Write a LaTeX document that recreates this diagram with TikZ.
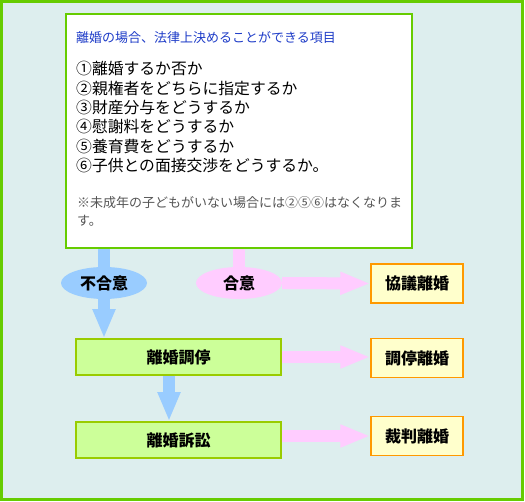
\documentclass[tikz,border=0pt]{standalone}
\usepackage{fontspec}
\newfontfamily\jp{Noto Sans CJK JP}
\usetikzlibrary{shapes.geometric,arrows.meta}
\definecolor{bgc}{HTML}{DDEEEE}
\definecolor{frame}{HTML}{66CC00}
\definecolor{titleblue}{RGB}{30,60,200}
\definecolor{notegray}{RGB}{85,85,85}
\definecolor{lblue}{HTML}{99CCFF}
\definecolor{lpink}{HTML}{FFCCFF}
\definecolor{gfill}{HTML}{CCFF99}
\definecolor{gline}{HTML}{99CC00}
\definecolor{yfill}{HTML}{FFFFCC}
\definecolor{yline}{HTML}{FF9900}
\tikzset{
  itemtext/.style={anchor=base west, inner sep=0pt, font=\jp\fontsize{15.8}{18}\selectfont},
  titletext/.style={anchor=base west, inner sep=0pt, text=titleblue, font=\jp\fontsize{13}{15}\selectfont},
  notetext/.style={anchor=base west, inner sep=0pt, text=notegray, font=\jp\fontsize{13}{15}\selectfont},
  bluearrow/.style={draw=lblue, line width=12pt, -{Triangle[length=29pt,width=21pt]}},
  pinkarrow/.style={draw=lpink, line width=12pt, -{Triangle[length=30pt,width=21pt]}},
  pinkline/.style={draw=lpink, line width=12pt},
  blueline/.style={draw=lblue, line width=12pt},
  choice/.style={ellipse, minimum width=86pt, minimum height=32pt, inner sep=0pt, font=\jp\bfseries\fontsize{16}{18}\selectfont},
  stagebox/.style={draw=gline, line width=1.5pt, fill=gfill, minimum width=205pt, minimum height=36pt, inner sep=0pt, font=\jp\bfseries\fontsize{16}{18}\selectfont},
  resultbox/.style={draw=yline, line width=1.5pt, fill=yfill, minimum width=92pt, minimum height=39pt, inner sep=0pt, font=\jp\bfseries\fontsize{16}{18}\selectfont},
}
\begin{document}
\begin{tikzpicture}[x=1pt,y=-1pt]
\useasboundingbox (0,0) rectangle (525,502);
\draw[draw=frame, fill=bgc, line width=2.5pt] (1.5,1.5) rectangle (522.5,499.5);
% info box
\node[draw=frame, fill=white, line width=2pt, minimum width=346pt, minimum height=234pt, anchor=north west, inner sep=0pt] (info) at (65,13) {};
\node[titletext] (title) at (76,43) {離婚の場合、法律上決めることができる項目};
\node[itemtext] (i1) at (76,75.0) {①離婚するか否か};
\node[itemtext] (i2) at (76,94.3) {②親権者をどちらに指定するか};
\node[itemtext] (i3) at (76,113.6) {③財産分与をどうするか};
\node[itemtext] (i4) at (76,132.9) {④慰謝料をどうするか};
\node[itemtext] (i5) at (76,152.2) {⑤養育費をどうするか};
\node[itemtext] (i6) at (76,171.5) {⑥子供との面接交渉をどうするか。};
\node[notetext] (n1) at (77,208) {※未成年の子どもがいない場合には②⑤⑥はなくなりま};
\node[notetext] (n2) at (77,226) {す。};
% stage boxes
\node[stagebox] (mediation) at (178.5,357) {離婚調停};
\node[stagebox] (suit) at (178.5,440) {離婚訴訟};
\node[resultbox] (kyogi) at (417,283.5) {協議離婚};
\node[resultbox] (chotei) at (417,358) {調停離婚};
\node[resultbox] (saiban) at (417,436) {裁判離婚};
% choice ellipses positions
\coordinate (dis) at (104,283);
\coordinate (agr) at (239,283);
% arrows
\draw[bluearrow] (info.south -| dis) -- (dis |- mediation.north);
\draw[pinkline] (info.south -| agr) -- (agr);
\node[choice, fill=lblue] (disagree) at (dis) {不合意};
\node[choice, fill=lpink] (agree) at (agr) {合意};
\draw[pinkarrow] (agree.east) -- (kyogi.west);
\draw[pinkarrow] (mediation.east) -- (mediation.east -| chotei.west);
\draw[pinkarrow] (suit.east |- saiban.west) -- (saiban.west);
\draw[bluearrow] ([xshift=-9.5pt]mediation.south) -- ([xshift=-9.5pt]suit.north);
\end{tikzpicture}
\end{document}
